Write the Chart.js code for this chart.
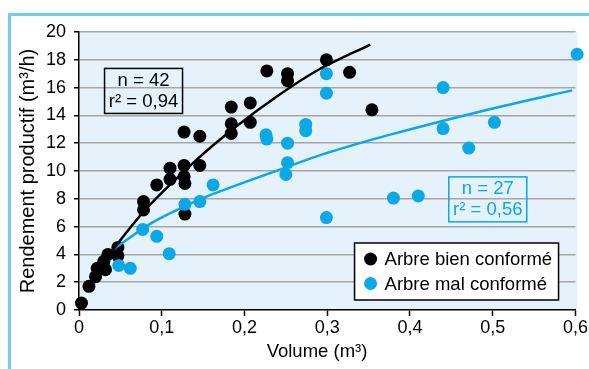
<!DOCTYPE html>
<html><head><meta charset="utf-8">
<script src="https://cdn.jsdelivr.net/npm/chart.js@4/dist/chart.umd.min.js"></script>
<style>html,body{margin:0;padding:0;background:#fff;}canvas{display:block;}</style>
</head><body>
<canvas id="c" width="589" height="369"></canvas>
<script>
// ---- data ----
const xTickValues = [0, 0.1, 0.2, 0.3, 0.4, 0.5, 0.6];
const xTickLabels = ['0', '0,1', '0,2', '0,3', '0,4', '0,5', '0,6'];
const yTickValues = [0, 2, 4, 6, 8, 10, 12, 14, 16, 18, 20];
const yTickLabels = ['0', '2', '4', '6', '8', '10', '12', '14', '16', '18', '20'];
const xTitle = 'Volume (m³)';
const yTitle = 'Rendement productif (m³/h)';
const seriesNames = ['Arbre bien conformé', 'Arbre mal conformé'];

const bienVolume = [0.003, 0.012, 0.02, 0.022, 0.032, 0.03, 0.035, 0.047, 0.047, 0.078, 0.078, 0.094, 0.11, 0.11, 0.127, 0.127, 0.128, 0.128, 0.146, 0.127, 0.146, 0.184, 0.184, 0.184, 0.207, 0.207, 0.227, 0.252, 0.252, 0.299, 0.327, 0.354];
const bienRendement = [0.5, 1.7, 2.4, 3.0, 2.9, 3.5, 4.0, 4.5, 3.9, 7.2, 7.8, 9.0, 10.2, 9.4, 10.4, 9.6, 9.1, 6.9, 10.4, 12.8, 12.5, 14.6, 13.4, 12.7, 14.9, 13.5, 17.2, 17.0, 16.5, 18.0, 17.1, 14.4];

const malVolume = [0.048, 0.062, 0.077, 0.094, 0.109, 0.128, 0.146, 0.162, 0.226, 0.227, 0.25, 0.252, 0.252, 0.274, 0.274, 0.299, 0.299, 0.299, 0.38, 0.41, 0.44, 0.44, 0.471, 0.502, 0.602, 0.602];
const malRendement = [3.2, 3.0, 5.8, 5.3, 4.05, 7.6, 7.8, 9.0, 12.6, 12.3, 9.75, 10.6, 12.0, 13.35, 12.9, 17.0, 15.6, 6.65, 8.05, 8.2, 16.0, 13.05, 11.65, 13.5, 18.4, 9.95];

const bienFitVolume = [0.03, 0.08, 0.142, 0.19, 0.2425, 0.29, 0.352];
const bienFitRendement = [3.5, 7.2, 10.8, 13.2, 15.5, 17.3, 19.1];
const malFitVolume = [0.04, 0.086, 0.122, 0.16, 0.2425, 0.3, 0.375, 0.5, 0.596];
const malFitRendement = [4.3, 6.2, 7.3, 8.3, 10.1, 11.3, 12.6, 14.5, 15.8];

const statsText = [['n = 42', 'r² = 0,94'], ['n = 27', 'r² = 0,56']];
const statsAnchor = [[0.078, 15.76], [0.494, 7.96]];
const legendAnchor = [0.333, 4.82];

// ---- styles ----
const BLACK = '#000000';
const BLUE = '#0aa8e6';
const FRAME = '#6ecdf3';
const PLOTBG = '#e6f2fb';
const GRID = '#a6a6a6';
const FONT = "'Liberation Sans', Arial, sans-serif";

const pts = (xs, ys) => xs.map((x, i) => ({x: x, y: ys[i]}));

const decor = {
  id: 'decor',
  beforeDraw(chart) {
    const {ctx, chartArea: a} = chart;
    ctx.save();
    ctx.fillStyle = '#fff';
    ctx.fillRect(0, 0, chart.width, chart.height);
    ctx.fillStyle = FRAME;
    ctx.fillRect(8, 13, 3, chart.height - 13);
    ctx.fillRect(8, 13, chart.width - 8, 3);
    ctx.fillStyle = PLOTBG;
    ctx.fillRect(a.left, a.top, a.right - a.left + 2, a.bottom - a.top);
    ctx.restore();
  },
  afterDraw(chart) {
    const {ctx, scales: {x, y}, chartArea: a} = chart;
    ctx.save();
    ctx.fillStyle = BLACK;
    ctx.textAlign = 'center';
    ctx.textBaseline = 'middle';
    ctx.font = '18.5px ' + FONT;
    ctx.fillText(xTitle, 317, 352);
    ctx.save();
    ctx.translate(28, (a.top + a.bottom) / 2);
    ctx.rotate(-Math.PI / 2);
    ctx.font = '20px ' + FONT;
    ctx.fillText(yTitle, 0, 0);
    ctx.restore();
    const colors = [BLACK, BLUE];
    statsText.forEach((lines, i) => {
      const cx = x.getPixelForValue(statsAnchor[i][0]);
      const cy = y.getPixelForValue(statsAnchor[i][1]);
      const w = 78, h = 45;
      ctx.strokeStyle = colors[i];
      ctx.lineWidth = 1.5;
      ctx.strokeRect(cx - w / 2, cy - h / 2, w, h);
      ctx.fillStyle = colors[i];
      ctx.font = '18.5px ' + FONT;
      ctx.fillText(lines[0], cx, cy - 10);
      ctx.fillText(lines[1], cx, cy + 11);
    });
    const lx = x.getPixelForValue(legendAnchor[0]);
    const ly = y.getPixelForValue(legendAnchor[1]);
    const lw = 204, lh = 57;
    ctx.fillStyle = '#fff';
    ctx.fillRect(lx, ly, lw, lh);
    ctx.strokeStyle = BLACK;
    ctx.lineWidth = 1.5;
    ctx.strokeRect(lx, ly, lw, lh);
    ctx.textAlign = 'left';
    chart.data.datasets.filter(d => d.legendIndex !== undefined)
      .sort((p, q) => p.legendIndex - q.legendIndex)
      .forEach((d, i) => {
        const yy = ly + 16 + i * 24.5;
        ctx.fillStyle = d.backgroundColor;
        ctx.beginPath();
        ctx.arc(lx + 16, yy, 6.5, 0, Math.PI * 2);
        ctx.fill();
        ctx.fillStyle = BLACK;
        ctx.font = '18.5px ' + FONT;
        ctx.fillText(d.label, lx + 30, yy + 1);
      });
    ctx.restore();
  }
};

new Chart(document.getElementById('c'), {
  type: 'scatter',
  data: {
    datasets: [
      {label: 'fit1', data: pts(bienFitVolume, bienFitRendement), showLine: true, borderColor: BLACK, borderWidth: 2.5, pointRadius: 0, tension: 0.3, clip: false},
      {label: 'fit2', data: pts(malFitVolume, malFitRendement), showLine: true, borderColor: BLUE, borderWidth: 2.5, pointRadius: 0, tension: 0.3, clip: false},
      {label: seriesNames[1], legendIndex: 1, data: pts(malVolume, malRendement), backgroundColor: BLUE, borderColor: BLUE, pointRadius: 6.5, borderWidth: 0, clip: false},
      {label: seriesNames[0], legendIndex: 0, data: pts(bienVolume, bienRendement), backgroundColor: BLACK, borderColor: BLACK, pointRadius: 6.5, borderWidth: 0, clip: false}
    ]
  },
  options: {
    responsive: false,
    animation: false,
    events: [],
    layout: {padding: {left: 0, right: 13, top: 32, bottom: 0}},
    plugins: {legend: {display: false}, tooltip: {enabled: false}},
    scales: {
      x: {
        type: 'linear', min: 0, max: 0.6,
        afterBuildTicks: s => { s.ticks = xTickValues.map(v => ({value: v})); },
        afterFit: s => { s.height = 59; },
        ticks: {
          callback: (v, i) => xTickLabels[i],
          color: BLACK, font: {family: FONT, size: 18}, padding: 1, maxRotation: 0, autoSkip: false
        },
        grid: {drawOnChartArea: false, drawTicks: true, tickLength: 6, tickColor: BLACK, tickWidth: 1.5},
        border: {color: BLACK, width: 1.5}
      },
      y: {
        type: 'linear', min: 0, max: 20,
        afterBuildTicks: s => { s.ticks = yTickValues.map(v => ({value: v})); },
        afterFit: s => { s.width = 79; },
        ticks: {
          callback: (v, i) => yTickLabels[i],
          color: BLACK, font: {family: FONT, size: 18}, padding: 8, autoSkip: false
        },
        grid: {
          color: c => (c.tick && c.tick.value === 0) ? 'rgba(0,0,0,0)' : GRID,
          lineWidth: 1.5, drawTicks: true, tickLength: 5, tickColor: BLACK, tickWidth: 1.5
        },
        border: {color: BLACK, width: 1.5}
      }
    }
  },
  plugins: [decor]
});
</script>
</body></html>
